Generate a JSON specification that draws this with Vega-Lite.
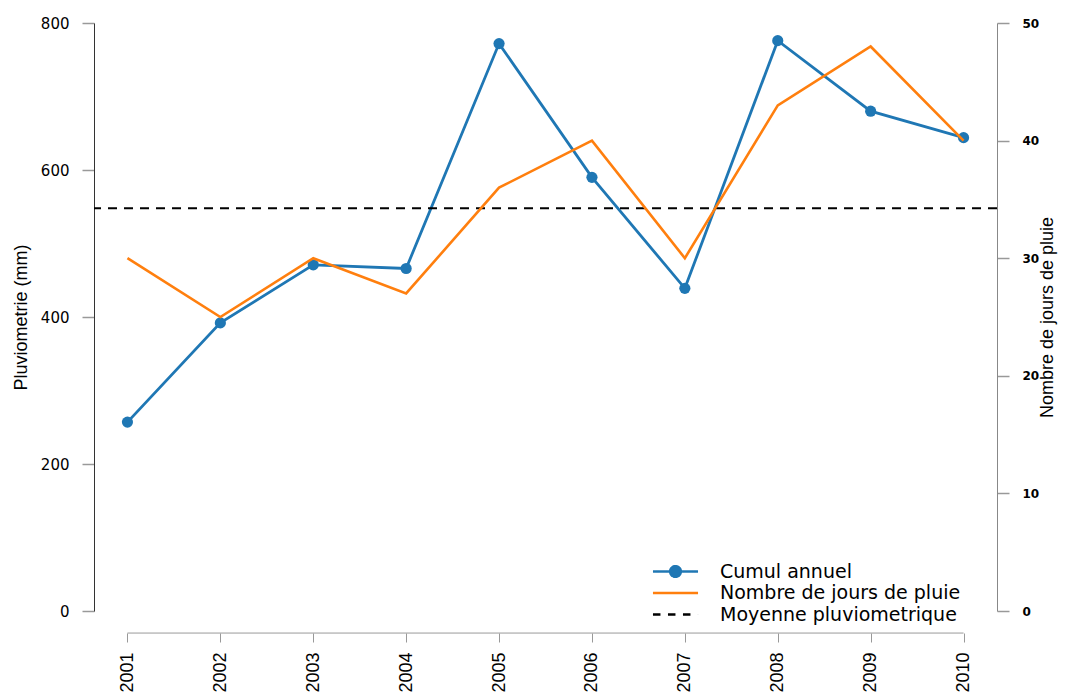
{
  "$schema": "https://vega.github.io/schema/vega-lite/v6.json",
  "width": 903,
  "height": 588,
  "autosize": {"type": "none"},
  "padding": {"left": 94, "top": 23, "right": 72, "bottom": 82},
  "background": "white",
  "config": {"view": {"stroke": null}, "axis": {"grid": false}},
  "datasets": {
    "pluie": [
      {"annee": 2001, "cumul": 257, "jours": 30},
      {"annee": 2002, "cumul": 392, "jours": 25},
      {"annee": 2003, "cumul": 471, "jours": 30},
      {"annee": 2004, "cumul": 466, "jours": 27},
      {"annee": 2005, "cumul": 772, "jours": 36},
      {"annee": 2006, "cumul": 590, "jours": 40},
      {"annee": 2007, "cumul": 439, "jours": 30},
      {"annee": 2008, "cumul": 776, "jours": 43},
      {"annee": 2009, "cumul": 680, "jours": 48},
      {"annee": 2010, "cumul": 644, "jours": 40}
    ],
    "moyenne": [{"valeur": 548}]
  },
  "data": {"name": "pluie"},
  "layer": [
    {
      "layer": [
        {
          "mark": {"type": "line", "strokeWidth": 2.8},
          "encoding": {
            "x": {
              "field": "annee", "type": "quantitative",
              "scale": {"domain": [2000.64, 2010.36], "nice": false, "zero": false},
              "axis": {
                "values": [2001, 2002, 2003, 2004, 2005, 2006, 2007, 2008, 2009, 2010],
                "format": "d", "title": null, "domain": false, "offset": 22,
                "tickSize": 9, "tickColor": "#999999", "tickWidth": 1,
                "labelAngle": 270, "labelFont": "Liberation Sans", "labelFontSize": 18,
                "labelColor": "black", "labelPadding": 10, "labelFlush": false, "labelOverlap": false
              }
            },
            "y": {
              "field": "cumul", "type": "quantitative",
              "scale": {"domain": [0, 800], "nice": false, "zero": false},
              "axis": {
                "values": [0, 200, 400, 600, 800], "title": "Pluviometrie (mm)",
                "domainColor": "#333333", "tickColor": "#999999", "tickSize": 12, "tickWidth": 1.5,
                "labelFont": "DejaVu Sans", "labelFontSize": 15, "labelColor": "black",
                "labelPadding": 13, "labelFlush": false,
                "titleFont": "Liberation Sans", "titleFontSize": 18, "titleFontWeight": "normal",
                "titleColor": "black", "titleX": -73, "titleBaseline": "middle"
              }
            },
            "color": {
              "datum": "Cumul annuel", "type": "nominal",
              "scale": {
                "domain": ["Cumul annuel", "Nombre de jours de pluie", "Moyenne pluviometrique"],
                "range": ["#1f77b4", "#ff7f0e", "#000000"]
              },
              "legend": {
                "orient": "none", "legendX": 572, "legendY": 539, "title": null, "padding": 0,
                "symbolType": "M-4,0L4,0", "symbolSize": 127, "symbolStrokeWidth": 2.5,
                "labelFont": "DejaVu Sans", "labelFontSize": 19, "labelColor": "black",
                "labelOffset": 35, "rowPadding": 1.5, "labelLimit": 400,
                "encode": {
                  "symbols": {
                    "update": {
                      "shape": {"signal": "datum.value === 'Cumul annuel' ? 'M-4,0L4,0M-0.95,0A0.95,0.95 0 1,1 0.95,0A0.95,0.95 0 1,1 -0.95,0Z' : 'M-4,0L4,0'"},
                      "fill": {"signal": "datum.value === 'Cumul annuel' ? '#1f77b4' : 'transparent'"},
                      "strokeDash": {"signal": "datum.value === 'Moyenne pluviometrique' ? [7.5, 7.5] : [1, 0]"}
                    }
                  }
                }
              }
            }
          }
        },
        {
          "mark": {"type": "point", "filled": true, "color": "#1f77b4", "size": 125, "opacity": 1},
          "encoding": {
            "x": {"field": "annee", "type": "quantitative"},
            "y": {"field": "cumul", "type": "quantitative"}
          }
        },
        {
          "mark": {"type": "rule", "color": "#999999", "strokeWidth": 1},
          "encoding": {
            "x": {"aggregate": "min", "field": "annee", "type": "quantitative"},
            "x2": {"aggregate": "max", "field": "annee"},
            "y": {"datum": -30, "type": "quantitative"}
          }
        },
        {
          "data": {"name": "moyenne"},
          "mark": {"type": "rule", "strokeDash": [9, 7], "strokeWidth": 2},
          "encoding": {
            "y": {"field": "valeur", "type": "quantitative"},
            "color": {"datum": "Moyenne pluviometrique", "type": "nominal"}
          }
        }
      ]
    },
    {
      "mark": {"type": "line", "strokeWidth": 2.6},
      "encoding": {
        "x": {"field": "annee", "type": "quantitative"},
        "y": {
          "field": "jours", "type": "quantitative",
          "scale": {"domain": [0, 50], "nice": false, "zero": false},
          "axis": {
            "orient": "right", "values": [0, 10, 20, 30, 40, 50], "title": "Nombre de jours de pluie",
            "domainColor": "#888888", "tickColor": "#999999", "tickSize": 12, "tickWidth": 1.5,
            "labelFont": "DejaVu Sans", "labelFontWeight": "bold", "labelFontSize": 12, "labelColor": "black",
            "labelPadding": 13, "labelFlush": false,
            "titleFont": "Liberation Sans", "titleFontSize": 18, "titleFontWeight": "normal",
            "titleColor": "black", "titleAngle": 270, "titleX": 50, "titleBaseline": "middle"
          }
        },
        "color": {"datum": "Nombre de jours de pluie", "type": "nominal"}
      }
    }
  ],
  "resolve": {"scale": {"y": "independent"}}
}
